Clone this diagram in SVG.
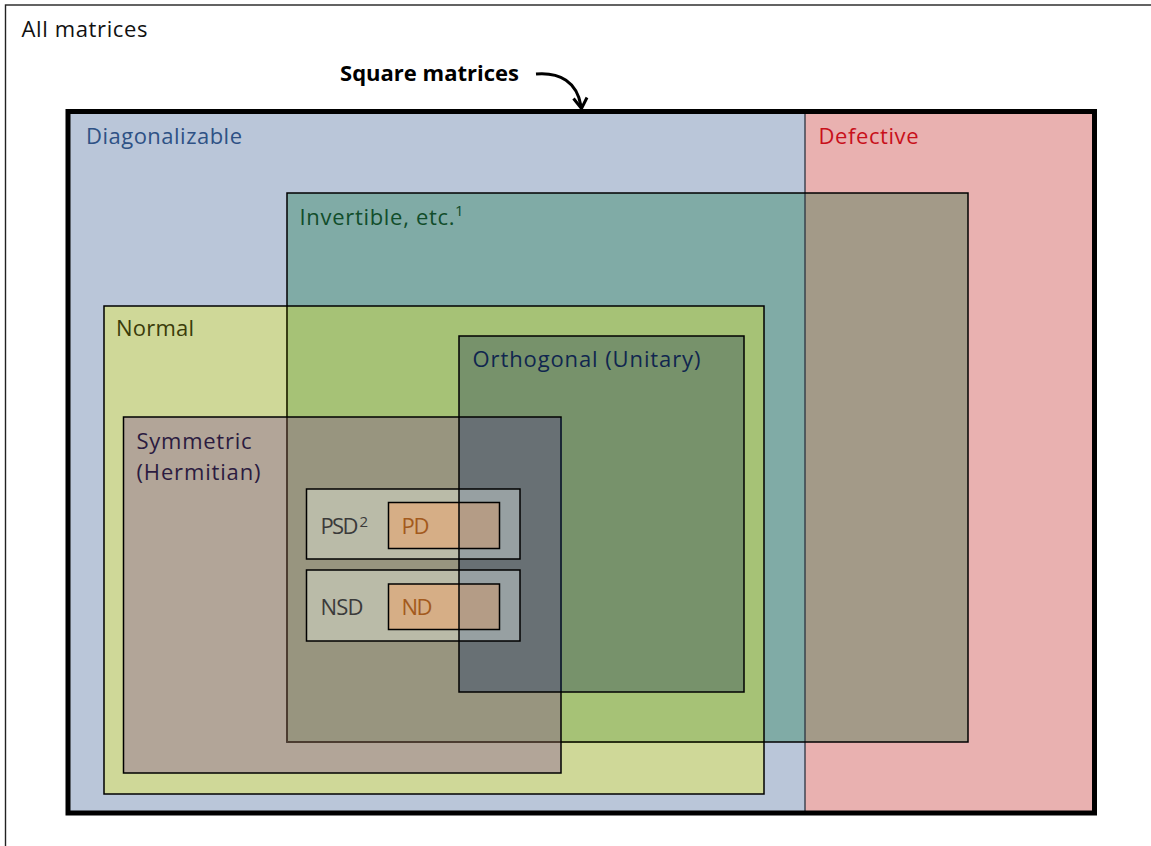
<svg xmlns="http://www.w3.org/2000/svg" width="1151" height="846" viewBox="0 0 1151 846">
  <style>
    .lbl { font-family: "Open Sans", "Noto Sans", "Liberation Sans", sans-serif; font-size: 22px; }
    .sup { font-family: "Open Sans", "Noto Sans", "Liberation Sans", sans-serif; font-size: 15px; }
    .ol { fill: none; stroke: #000; stroke-width: 1.5; }
  </style>
  <rect x="0" y="0" width="1151" height="846" fill="#ffffff"/>

  <g id="all-matrices">
    <rect x="5.5" y="5" width="1200" height="900" fill="#ffffff" stroke="#222" stroke-width="1.4"/>
    <text class="lbl" x="21.5" y="37" fill="#111" textLength="126">All matrices</text>
  </g>

  <g id="diagonalizable">
    <rect x="68" y="111.5" width="737" height="701.5" fill="#BAC6D9"/>
    <text class="lbl" x="86" y="144" fill="#2E5185" textLength="156">Diagonalizable</text>
  </g>

  <g id="defective">
    <rect x="805" y="111.5" width="289.5" height="701.5" fill="#E9B1B0"/>
    <text class="lbl" x="818.5" y="143.5" fill="#C8101A" textLength="100">Defective</text>
  </g>

  <g id="invertible">
    <rect x="287" y="193" width="681" height="549" fill="#80ABA6"/>
    <rect x="805" y="193" width="163" height="549" fill="#A39A88"/>
    <text class="lbl" x="299.5" y="224.5" fill="#114D2B" textLength="155">Invertible, etc.</text>
    <text class="sup" x="455" y="216" fill="#114D2B">1</text>
  </g>

  <g id="normal">
    <rect x="104" y="306" width="660" height="488" fill="#CFD898"/>
    <rect x="287" y="306" width="477" height="436" fill="#A6C276"/>
    <text class="lbl" x="116" y="336" fill="#3B3C0A" textLength="78">Normal</text>
  </g>

  <g id="orthogonal">
    <rect x="459" y="336" width="285" height="356" fill="#77926B"/>
    <text class="lbl" x="472.5" y="366.5" fill="#10264F" textLength="228">Orthogonal (Unitary)</text>
  </g>

  <g id="symmetric">
    <rect x="123.5" y="417" width="437.5" height="356" fill="#B2A598"/>
    <rect x="287" y="417" width="274" height="325" fill="#98957F"/>
    <rect x="459" y="417" width="102" height="275" fill="#687074"/>
    <text class="lbl" x="136.5" y="448.5" fill="#2B1B40" textLength="115">Symmetric</text>
    <text class="lbl" x="136.5" y="480" fill="#2B1B40" textLength="124">(Hermitian)</text>
  </g>

  <g id="psd">
    <rect x="306.5" y="489" width="213.5" height="70" fill="#BABBA8"/>
    <rect x="459" y="489" width="61" height="70" fill="#97A0A2"/>
    <text class="lbl" x="320.5" y="534" fill="#3A3A3A" textLength="38">PSD</text>
    <text class="sup" x="359.5" y="527" fill="#3A3A3A">2</text>
  </g>

  <g id="pd">
    <rect x="388.5" y="502.5" width="111" height="46" fill="#D6AE86"/>
    <rect x="459" y="502.5" width="40.5" height="46" fill="#B49C86"/>
    <text class="lbl" x="401.5" y="534" fill="#A35A1D" textLength="28">PD</text>
  </g>

  <g id="nsd">
    <rect x="306.5" y="570" width="213.5" height="71" fill="#BABBA8"/>
    <rect x="459" y="570" width="61" height="71" fill="#97A0A2"/>
    <text class="lbl" x="320.5" y="615" fill="#3A3A3A" textLength="43">NSD</text>
  </g>

  <g id="nd">
    <rect x="388.5" y="584" width="111" height="45.5" fill="#D6AE86"/>
    <rect x="459" y="584" width="40.5" height="45.5" fill="#B49C86"/>
    <text class="lbl" x="401.5" y="615" fill="#A35A1D" textLength="31">ND</text>
  </g>

  <g id="outlines">
    <line x1="805" y1="111.5" x2="805" y2="813" stroke="#2B3440" stroke-width="1.3"/>
    <rect class="ol" x="287" y="193" width="681" height="549"/>
    <line x1="287" y1="306" x2="287" y2="417" stroke="#3C4010" stroke-width="1.5"/>
    <line x1="287" y1="417" x2="287" y2="742" stroke="#584536" stroke-width="1.5"/>
    <line x1="287" y1="742" x2="561" y2="742" stroke="#584536" stroke-width="1.5"/>
    <line x1="561" y1="742" x2="764" y2="742" stroke="#2A3010" stroke-width="1.5"/>
    <rect class="ol" x="104" y="306" width="660" height="488"/>
    <rect class="ol" x="459" y="336" width="285" height="356"/>
    <rect class="ol" x="123.5" y="417" width="437.5" height="356"/>
    <line x1="561" y1="418" x2="561" y2="691" stroke="#1B2A3F" stroke-width="1.5"/>
    <rect class="ol" x="306.5" y="489" width="213.5" height="70"/>
    <rect class="ol" x="388.5" y="502.5" width="111" height="46"/>
    <rect class="ol" x="306.5" y="570" width="213.5" height="71"/>
    <rect class="ol" x="388.5" y="584" width="111" height="45.5"/>
  </g>

  <g id="square-matrices">
    <rect x="68" y="111.5" width="1026.5" height="701.5" fill="none" stroke="#000" stroke-width="5"/>
    <text class="lbl" x="340" y="81" font-weight="bold" fill="#000" textLength="179">Square matrices</text>
  </g>

  <g id="connectors">
    <path d="M536,74 C560,72 577,82 581,106" fill="none" stroke="#000" stroke-width="3"/>
    <polyline points="573.5,98.5 581.5,108.5 587,97.5" fill="none" stroke="#000" stroke-width="3" stroke-linejoin="miter"/>
  </g>
</svg>
